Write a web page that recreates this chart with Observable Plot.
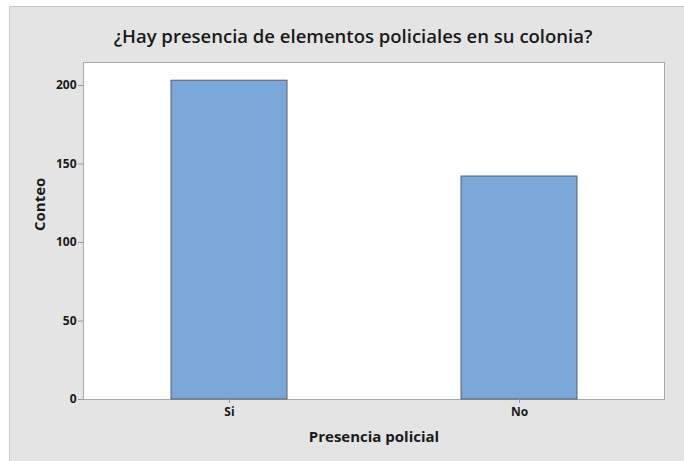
<!DOCTYPE html>
<html><head><meta charset="utf-8">
<script src="https://cdn.jsdelivr.net/npm/d3@7"></script>
<script src="https://cdn.jsdelivr.net/npm/@observablehq/plot@0.6"></script>
<style>
html,body{margin:0;padding:0;background:#fff;width:684px;height:461px;overflow:hidden;}
#panel{position:absolute;left:9px;top:6px;width:675px;height:455px;background:#e4e4e4;border-left:1px solid #c8c8c8;border-top:1px solid #c8c8c8;box-sizing:border-box;}
#chart{position:absolute;left:0;top:0;}
</style>
</head><body>
<div id="panel"></div>
<div id="chart"></div>
<script>
const categories = ["Si", "No"];
const counts = [203, 142];
const yTicks = [0, 50, 100, 150, 200];
const title = "¿Hay presencia de elementos policiales en su colonia?";
const xLabel = "Presencia policial";
const yLabel = "Conteo";

const data = categories.map((c, i) => ({cat: c, count: counts[i]}));

const chart = Plot.plot({
  width: 684,
  height: 461,
  marginLeft: 83,
  marginRight: 20,
  marginTop: 62,
  marginBottom: 62,
  style: {background: "transparent", fontFamily: "'Open Sans', sans-serif", color: "#1a1a1a"},
  x: {domain: categories, paddingInner: 0.6, paddingOuter: 0.3, axis: null},
  y: {domain: [0, 214.6], axis: null},
  marks: [
    Plot.frame({fill: "white", stroke: "#a8a8a8"}),
    Plot.barY(data, {x: "cat", y: "count", fill: "#7ba6d8", stroke: "#56606e", strokeWidth: 1}),
    Plot.axisY({ticks: yTicks, tickSize: 5, tickPadding: 2, stroke: "#999", fill: "#1a1a1a", fontWeight: "bold", fontSize: 12, label: null}),
    Plot.axisX({tickSize: 4, tickPadding: 4, stroke: "#999", fill: "#1a1a1a", fontWeight: "bold", fontSize: 12, label: null}),
    Plot.text([title], {frameAnchor: "top", dx: -21, dy: -20, lineAnchor: "bottom", fontSize: 18.5, fontWeight: 600, fill: "#1a1a1a"}),
    Plot.text([xLabel], {frameAnchor: "bottom", dy: 42, lineAnchor: "bottom", fontSize: 15, fontWeight: "bold", fill: "#1a1a1a"}),
    Plot.text([yLabel], {frameAnchor: "left", dx: -39, rotate: -90, lineAnchor: "bottom", fontSize: 15, fontWeight: "bold", fill: "#1a1a1a"})
  ]
});
document.getElementById("chart").appendChild(chart);
</script>
</body></html>
